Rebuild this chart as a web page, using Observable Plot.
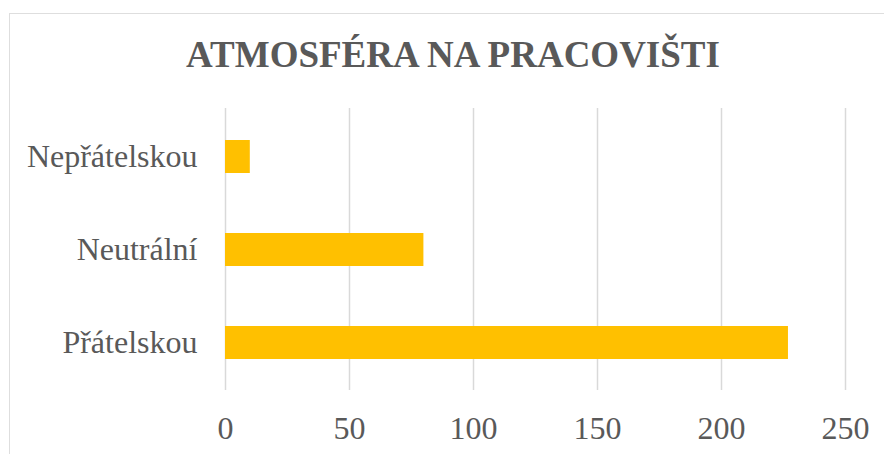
<!DOCTYPE html>
<html>
<head>
<meta charset="utf-8">
<script src="https://cdn.jsdelivr.net/npm/d3@7"></script>
<script src="https://cdn.jsdelivr.net/npm/@observablehq/plot@0.6"></script>
<style>
  html, body { margin: 0; padding: 0; background: #fff; }
  #wrap { position: relative; width: 884px; height: 454px; overflow: hidden; background: #fff; }
  #frame { position: absolute; left: 9px; top: 13px; width: 940px; height: 520px; border: 1.3px solid #dedede; box-sizing: border-box; }
  #title { position: absolute; left: 453px; top: 36px; transform: translateX(-50%); white-space: nowrap;
           font-family: "Liberation Serif", "Times New Roman", serif; font-weight: bold; font-size: 37px; line-height: 1;
           color: #595959; }
  #chart { position: absolute; left: 0; top: 90px; }
</style>
</head>
<body>
<div id="wrap">
  <div id="frame"></div>
  <div id="title">ATMOSFÉRA NA PRACOVIŠTI</div>
  <div id="chart"></div>
</div>
<script>
const categories = ["Nepřátelskou", "Neutrální", "Přátelskou"];
const values = [10, 80, 227];
const xTicks = [0, 50, 100, 150, 200, 250];

const data = categories.map((c, i) => ({category: c, value: values[i]}));

const plot = Plot.plot({
  width: 884,
  height: 364,
  marginLeft: 225,
  marginRight: 39,
  marginTop: 18,
  marginBottom: 64,
  style: {
    fontFamily: '"Liberation Serif", "Times New Roman", serif',
    fontSize: "32px",
    color: "#595959",
    background: "transparent",
    overflow: "visible"
  },
  x: { domain: [0, 250], ticks: xTicks },
  y: { domain: categories, paddingInner: 0.647, paddingOuter: 0.33 },
  marks: [
    Plot.gridX(xTicks, { stroke: "#d9d9d9", strokeOpacity: 1, strokeWidth: 1.5 }),
    Plot.barX(data, { x: "value", y: "category", fill: "#FFC000" }),
    Plot.axisX(xTicks, { tickSize: 0, tickPadding: 26, label: null, fill: "#595959", fontSize: 32 }),
    Plot.axisY({ tickSize: 0, tickPadding: 28, label: null, fill: "#595959", fontSize: 32 })
  ]
});
document.getElementById("chart").appendChild(plot);
</script>
</body>
</html>
